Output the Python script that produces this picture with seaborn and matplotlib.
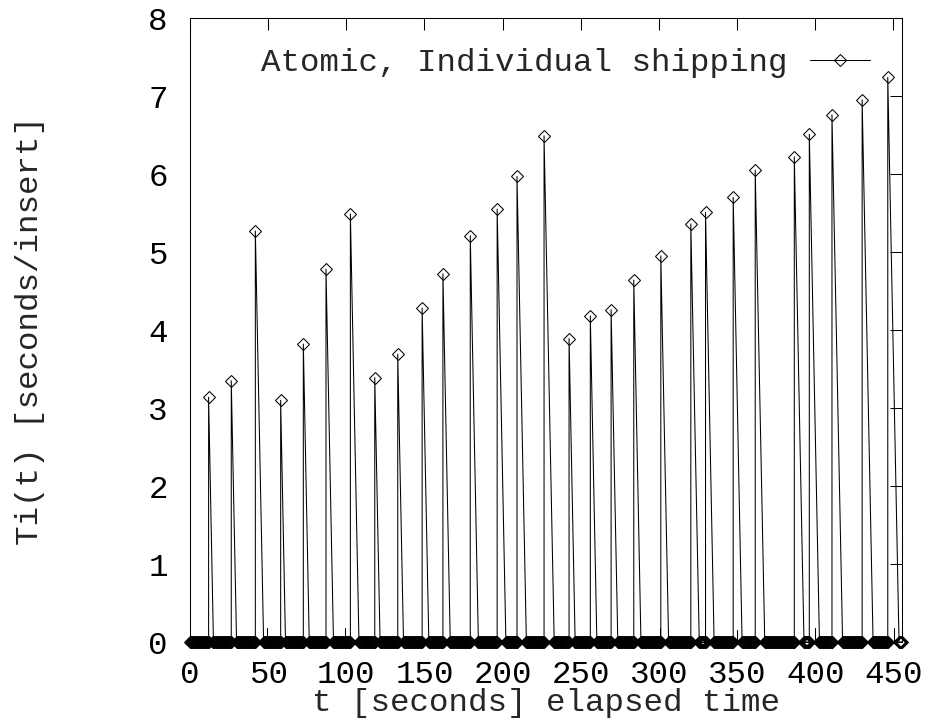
import numpy as np
import pandas as pd
import matplotlib
matplotlib.use("Agg")
import matplotlib.pyplot as plt
import seaborn as sns

# ---- data ----
peak_times = [11.9, 26.4, 41.8, 58.0, 72.5, 87.0, 102.6,
              118.2, 132.9, 148.5, 161.8, 179.3, 196.5, 209.2, 226.5,
              242.5, 256.1, 269.4, 283.9, 301.2, 320.4, 329.8,
              347.5, 361.6, 386.6, 396.2, 410.7, 430.0, 446.4]
peak_values = [3.14, 3.35, 5.27, 3.10, 3.82, 4.78, 5.49,
               3.39, 3.69, 4.28, 4.72, 5.21, 5.55, 5.97, 6.49,
               3.89, 4.18, 4.26, 4.64, 4.95, 5.36, 5.51,
               5.70, 6.05, 6.22, 6.51, 6.76, 6.95, 7.24]
# time at which each peak has fallen back to zero
drop_ends = [15.0, 29.8, 47.1, 61.1, 76.3, 91.8, 108.1,
             121.6, 136.6, 152.8, 166.5, 184.5, 202.1, 215.2, 233.0,
             246.4, 260.3, 273.7, 288.5, 306.2, 325.8, 335.3,
             353.2, 367.7, 392.8, 402.7, 417.5, 437.0, 453.6]
# small blips near zero
spike_times = [49.4, 99.4, 300.8, 349.9, 400.1, 450.2]
spike_values = [0.18, 0.18, 0.18, 0.16, 0.18, 0.18]

t_start, t_end = 0.0, 455.5
baseline_step = 0.5

x_ticks = [0, 50, 100, 150, 200, 250, 300, 350, 400, 450]
y_ticks = [0, 1, 2, 3, 4, 5, 6, 7, 8]
series_label = "Atomic, Individual shipping"
x_label = "t [seconds] elapsed time"
y_label = "Ti(t) [seconds/insert]"

# ---- build the sampled series ----
base_t = np.arange(t_start, t_end + 1e-9, baseline_step)
keep = np.ones(base_t.shape, bool)
for tp, te in zip(peak_times, drop_ends):
    keep &= ~((base_t >= tp) & (base_t < te))
recs = [(t, 0, 0.0) for t in base_t[keep]]
for tp, v, te in zip(peak_times, peak_values, drop_ends):
    recs += [(tp, 0, 0.0), (tp, 1, v), (te, 2, 0.0)]
recs.sort(key=lambda r: (r[0], r[1]))
df = pd.DataFrame(recs, columns=["t", "k", "v"])

spk = []
for i, (s, h) in enumerate(zip(spike_times, spike_values)):
    spk += [(i, s, 0.0), (i, s, h)]
spk_df = pd.DataFrame(spk, columns=["id", "t", "v"])

# ---- style ----
sns.set_theme(style="white")
plt.rcParams["font.family"] = ["Liberation Mono", "DejaVu Sans Mono"]
FS = 23.4
LW = 0.75

fig = plt.figure(figsize=(9.25, 7.21), dpi=100)
ax = fig.add_axes([190 / 925, 1 - 642 / 721, 712 / 925, 624 / 721])

sns.lineplot(data=spk_df, x="t", y="v", units="id", estimator=None,
             color="black", linewidth=LW, ax=ax, legend=False)
sns.lineplot(data=df, x="t", y="v", estimator=None, sort=False, ax=ax,
             color="black", linewidth=LW, marker="D", markersize=6.3,
             markerfacecolor="none", markeredgecolor="black",
             markeredgewidth=LW, clip_on=False, label=series_label)

ax.set_xlim(t_start, t_end)
ax.set_ylim(0, 8)
ax.set_xticks(x_ticks)
ax.set_xticklabels([str(v) for v in x_ticks])
ax.set_yticks(y_ticks)
ax.set_yticklabels([str(v) for v in y_ticks])
ax.tick_params(axis="both", direction="in", length=8.6, width=LW,
               top=True, right=True, labelsize=FS, colors="black")
ax.tick_params(axis="x", pad=13)
ax.tick_params(axis="y", pad=16)
for sp in ax.spines.values():
    sp.set_visible(True)
    sp.set_linewidth(LW)
    sp.set_color("black")

ax.set_xlabel(x_label, fontsize=FS, va="center")
ax.set_ylabel(y_label, fontsize=FS, va="center")
ax.xaxis.set_label_coords(0.5, (642 - 703) / 624)
ax.yaxis.set_label_coords((30 - 190) / 712, 0.5)

leg = ax.legend(loc="center right", bbox_to_anchor=((870 - 190) / 712, (642 - 63) / 624),
                frameon=False, markerfirst=False, fontsize=FS, borderpad=0,
                borderaxespad=0, handlelength=1.85, handletextpad=0.7, numpoints=1)

fig.savefig("out.png", dpi=100, facecolor="white")
